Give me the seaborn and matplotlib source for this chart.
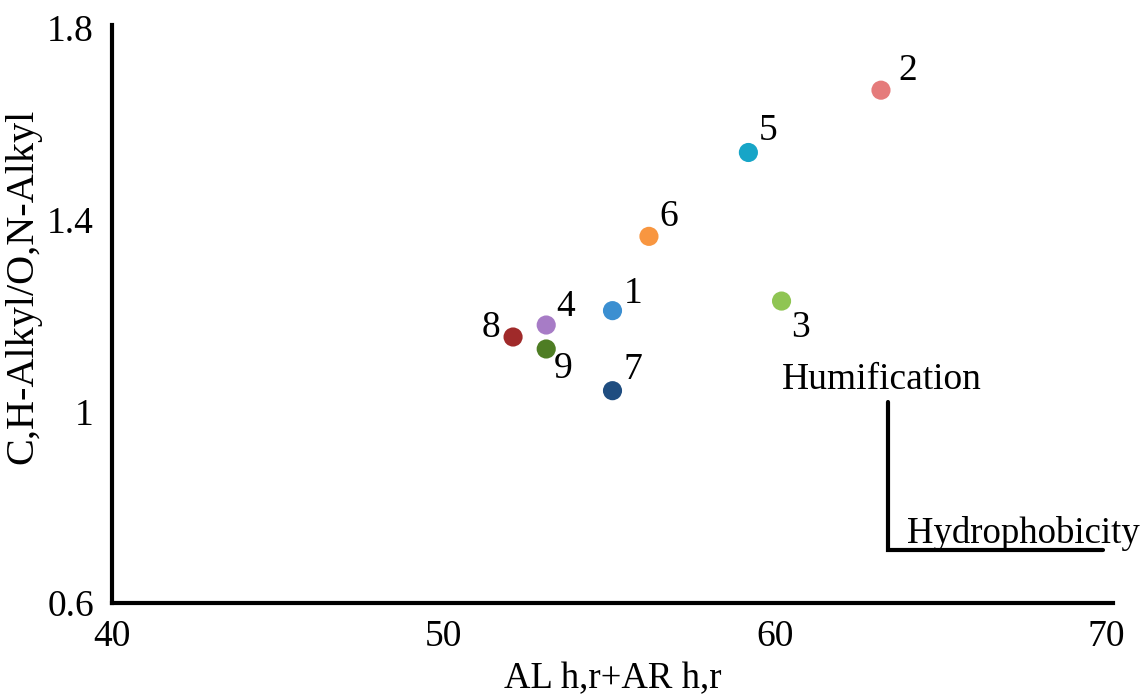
import matplotlib
matplotlib.use("Agg")
import matplotlib.pyplot as plt
import seaborn as sns
import pandas as pd

# ---- data ----
samples = ["1", "2", "3", "4", "5", "6", "7", "8", "9"]
x_vals = [55.1, 63.2, 60.2, 53.1, 59.2, 56.2, 55.1, 52.1, 53.1]   # AL h,r + AR h,r
y_vals = [1.21, 1.67, 1.23, 1.18, 1.54, 1.365, 1.043, 1.155, 1.13]  # C,H-Alkyl / O,N-Alkyl
colors = ["#3b8fd1", "#e57b7b", "#8fc553", "#a77cc6", "#17a5c7",
          "#f89640", "#1f4d80", "#a02a2a", "#4e7d24"]
# label offsets (points) relative to each marker
label_dx = [15, 19, 14, 14, 14, 14, 15, -16, 12]
label_dy = [12, 14, -19, 13, 16, 14, 15, 7, -14]
x_ticks = [40, 50, 60, 70]
y_ticks = [0.6, 1.0, 1.4, 1.8]
y_tick_labels = ["0.6", "1", "1.4", "1.8"]

df = pd.DataFrame({"sample": samples, "x": x_vals, "y": y_vals})

sns.set_theme(style="white")
plt.rcParams["font.family"] = ["Liberation Serif", "DejaVu Serif"]

FS = 27
fig = plt.figure(figsize=(11.46, 6.98), dpi=100)
ax = fig.add_axes([112 / 1146, 1 - 603 / 698, (1113 - 112) / 1146, (603 - 25) / 698])

sns.scatterplot(data=df, x="x", y="y", hue="sample", palette=colors,
                s=190, edgecolor="none", legend=False, ax=ax, zorder=3)

for s, xv, yv, dx, dy in zip(samples, x_vals, y_vals, label_dx, label_dy):
    ax.annotate(s, (xv, yv), xytext=(dx, dy), textcoords="offset points",
                ha="center", va="center", fontsize=FS, color="black")

ax.set_xlim(40, 70.2)
ax.set_ylim(0.6, 1.806)
ax.set_xticks(x_ticks)
ax.set_xticklabels([str(t) for t in x_ticks])
ax.set_yticks(y_ticks)
ax.set_yticklabels(y_tick_labels)
ax.tick_params(axis="both", length=0, labelsize=FS, colors="black")
ax.tick_params(axis="x", pad=12)
ax.tick_params(axis="y", pad=13)

for side in ["top", "right"]:
    ax.spines[side].set_visible(False)
for side in ["left", "bottom"]:
    ax.spines[side].set_color("black")
    ax.spines[side].set_linewidth(3)

ax.set_xlabel("AL h,r+AR h,r", fontsize=26.5, color="black")
ax.xaxis.set_label_coords(0.5, -0.101)
ax.set_ylabel("C,H-Alkyl/O,N-Alkyl", fontsize=29, color="black")
ax.yaxis.set_label_coords(-0.071, 0.547)

# Humification / Hydrophobicity guide
ax.plot([63.4, 63.4, 69.9], [1.02, 0.71, 0.71], color="black", lw=3,
        solid_capstyle="round", solid_joinstyle="miter", clip_on=False)
ax.text(60.2, 1.066, "Humification", fontsize=FS, ha="left", va="center", color="black")
ax.text(64.0, 0.745, "Hydrophobicity", fontsize=26.5, ha="left", va="center",
        color="black", clip_on=False)

ax.grid(False)
fig.savefig("out.png", dpi=100, facecolor="white")
